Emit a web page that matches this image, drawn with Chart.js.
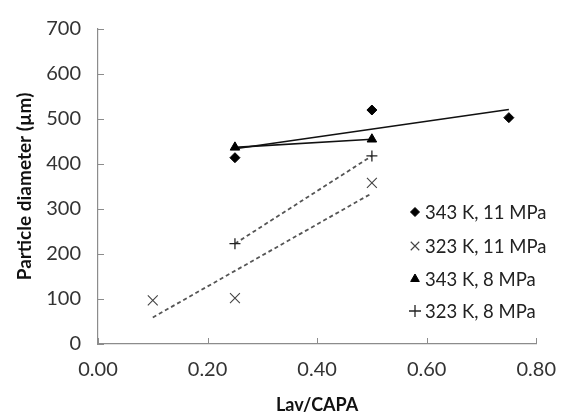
<!DOCTYPE html>
<html>
<head>
<meta charset="utf-8">
<script src="https://cdn.jsdelivr.net/npm/chart.js@4/dist/chart.umd.min.js"></script>
<style>
  html, body { margin: 0; padding: 0; background: #fff; }
  #wrap { width: 570px; height: 415px; }
</style>
</head>
<body>
<div id="wrap"><canvas id="canvas1" width="570" height="415"></canvas></div>
<script>
// data
const lav_343_11 = [0.25, 0.50, 0.75];
const d_343_11 = [414, 520, 503];
const lav_323_11 = [0.10, 0.25, 0.50];
const d_323_11 = [97, 102, 358];
const lav_343_8 = [0.25, 0.50];
const d_343_8 = [437, 455];
const lav_323_8 = [0.25, 0.50];
const d_323_8 = [223, 418];

// trendline ends, as seen in the picture
const trendX_343_11 = [0.25, 0.75];
const trendY_343_11 = [434, 521];
const trendX_323_11 = [0.10, 0.50];
const trendY_323_11 = [59, 335];

const legendNames = ["343 K, 11 MPa", "323 K, 11 MPa", "343 K, 8 MPa", "323 K, 8 MPa"];
const xTicks = [0, 0.2, 0.4, 0.6, 0.8];
const yTicks = [0, 100, 200, 300, 400, 500, 600, 700];

const FONT = "Lato, 'Open Sans', sans-serif";
const AXIS_COLOR = "#8c8c8c";

function pts(xs, ys) {
  let data = [];
  for (let i = 0; i < xs.length; i++) {
    data.push({ x: xs[i], y: ys[i] });
  }
  return data;
}

// little legend drawn inside the plot, like the excel one
const insideLegend = {
  id: "insideLegend",
  afterDraw(chart) {
    const ctx = chart.ctx;
    const rows = [212, 246, 279, 311];
    ctx.save();
    ctx.font = "18.5px " + FONT;
    ctx.textBaseline = "middle";
    for (let i = 0; i < legendNames.length; i++) {
      const ds = chart.data.datasets[i];
      const y = rows[i];
      ctx.strokeStyle = ds.borderColor;
      ctx.fillStyle = ds.backgroundColor;
      ctx.lineWidth = ds.borderWidth;
      Chart.helpers.drawPoint(ctx, {
        pointStyle: ds.pointStyle,
        radius: ds.legendRadius,
        rotation: 0,
        borderWidth: ds.borderWidth
      }, 415, y);
      ctx.fillStyle = "#222";
      ctx.fillText(legendNames[i], 425, y + 1);
    }
    ctx.restore();
  }
};

// excel-style ticks pointing into the plot
const insideTicks = {
  id: "insideTicks",
  afterDraw(chart) {
    const ctx = chart.ctx;
    const xs = chart.scales.x, ys = chart.scales.y;
    const a = chart.chartArea;
    ctx.save();
    ctx.strokeStyle = AXIS_COLOR;
    ctx.lineWidth = 1;
    ctx.beginPath();
    yTicks.forEach(v => {
      const p = Math.round(ys.getPixelForValue(v)) + 0.5;
      ctx.moveTo(a.left, p);
      ctx.lineTo(a.left + 6, p);
    });
    xTicks.forEach(v => {
      const p = Math.round(xs.getPixelForValue(v)) + 0.5;
      ctx.moveTo(p, a.bottom);
      ctx.lineTo(p, a.bottom - 6);
    });
    ctx.stroke();
    ctx.restore();
  }
};

new Chart(document.getElementById("canvas1"), {
  type: "scatter",
  data: {
    datasets: [
      {
        label: legendNames[0],
        data: pts(lav_343_11, d_343_11),
        pointStyle: "rectRot",
        pointRadius: 5,
        legendRadius: 4.5,
        backgroundColor: "#000",
        borderColor: "#000",
        borderWidth: 1,
        showLine: false
      },
      {
        label: legendNames[1],
        data: pts(lav_323_11, d_323_11),
        pointStyle: "crossRot",
        pointRadius: 7,
        legendRadius: 6,
        backgroundColor: "#444",
        borderColor: "#444",
        borderWidth: 1.1,
        showLine: false
      },
      {
        label: legendNames[2],
        data: pts(lav_343_8, d_343_8),
        pointStyle: "triangle",
        pointRadius: 5.5,
        legendRadius: 5,
        backgroundColor: "#000",
        borderColor: "#000",
        borderWidth: 1,
        showLine: false
      },
      {
        label: legendNames[3],
        data: pts(lav_323_8, d_323_8),
        pointStyle: "cross",
        pointRadius: 5.5,
        legendRadius: 6,
        backgroundColor: "#222",
        borderColor: "#222",
        borderWidth: 1.3,
        showLine: false
      },
      // trend lines
      {
        label: "trend 343 K, 11 MPa",
        data: pts(trendX_343_11, trendY_343_11),
        showLine: true,
        pointRadius: 0,
        borderColor: "#111",
        borderWidth: 1.6,
        fill: false
      },
      {
        label: "trend 323 K, 11 MPa",
        data: pts(trendX_323_11, trendY_323_11),
        showLine: true,
        pointRadius: 0,
        borderColor: "#555",
        borderWidth: 1.8,
        borderDash: [4, 3],
        fill: false
      },
      {
        label: "trend 343 K, 8 MPa",
        data: pts(lav_343_8, d_343_8),
        showLine: true,
        pointRadius: 0,
        borderColor: "#111",
        borderWidth: 1.6,
        fill: false
      },
      {
        label: "trend 323 K, 8 MPa",
        data: pts(lav_323_8, d_323_8),
        showLine: true,
        pointRadius: 0,
        borderColor: "#555",
        borderWidth: 1.8,
        borderDash: [4, 3],
        fill: false
      }
    ]
  },
  options: {
    responsive: false,
    animation: false,
    events: [],
    layout: { padding: { left: 0, right: 20, top: 21, bottom: 0 } },
    plugins: {
      legend: { display: false },
      tooltip: { enabled: false }
    },
    scales: {
      x: {
        type: "linear",
        min: 0,
        max: 0.8,
        afterBuildTicks: s => { s.ticks = xTicks.map(v => ({ value: v })); },
        afterFit: s => { s.height = 71; },
        border: { display: true, color: AXIS_COLOR, width: 1.2 },
        grid: { display: false, drawTicks: false },
        ticks: {
          padding: 14,
          color: "#333",
          font: { family: FONT, size: 20 },
          callback: v => Number(v).toFixed(2)
        },
        title: {
          display: true,
          text: "Lav/CAPA",
          color: "#111",
          font: { family: FONT, size: 18, weight: "bold" },
          padding: { top: 4, bottom: -1 }
        }
      },
      y: {
        type: "linear",
        min: 0,
        max: 700,
        afterBuildTicks: s => { s.ticks = yTicks.map(v => ({ value: v })); },
        afterFit: s => { s.width = 98; },
        border: { display: true, color: AXIS_COLOR, width: 1.2 },
        grid: { display: false, drawTicks: false },
        ticks: {
          padding: 17,
          color: "#333",
          font: { family: FONT, size: 20 }
        },
        title: {
          display: true,
          text: "Particle diameter (µm)",
          color: "#111",
          font: { family: FONT, size: 19, weight: "bold" },
          padding: { top: 13, bottom: 0 }
        }
      }
    }
  },
  plugins: [insideTicks, insideLegend]
});
</script>
</body>
</html>
